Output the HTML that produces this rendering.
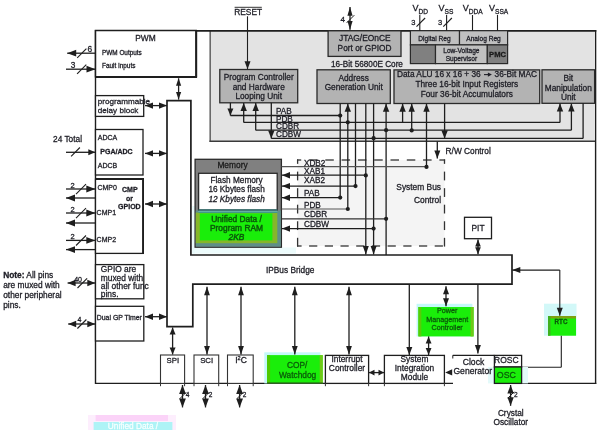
<!DOCTYPE html>
<html><head><meta charset="utf-8"><style>
html,body{margin:0;padding:0;background:#ffffff;}
svg{display:block;font-family:"Liberation Sans",sans-serif;will-change:transform;}
</style></head><body>
<svg width="600" height="430" viewBox="0 0 600 430">
<rect width="600" height="430" fill="#ffffff"/>
<rect x="88" y="415" width="88" height="15" fill="#fdeefd"/>
<rect x="95.6" y="415" width="72.4" height="6" fill="#fbd3f8"/>
<rect x="93.6" y="422" width="78.8" height="8" fill="#aef3f6"/>
<text x="133" y="429.49" font-size="8.3" text-anchor="middle" font-weight="normal" font-style="normal" fill="#f6ffff" stroke="#f6ffff" stroke-width="0.28" >Unified Data /</text>
<rect x="210.2" y="30.5" width="384.0" height="110.7" fill="#e3e3e3"/>
<line x1="210.2" y1="30.5" x2="210.2" y2="142" stroke="#6a6a6a" stroke-width="1.6" />
<line x1="209.5" y1="141.2" x2="595.5" y2="141.2" stroke="#3a3a3a" stroke-width="1.5" />
<line x1="95" y1="30.9" x2="596.3" y2="30.9" stroke="#1e1e1e" stroke-width="1.8" />
<line x1="95.5" y1="30" x2="95.5" y2="383.9" stroke="#1e1e1e" stroke-width="1.4" />
<line x1="95" y1="383.4" x2="453" y2="383.4" stroke="#1e1e1e" stroke-width="1.4" />
<line x1="521.6" y1="383.4" x2="596.3" y2="383.4" stroke="#1e1e1e" stroke-width="1.4" />
<line x1="595.6" y1="30" x2="595.6" y2="383.9" stroke="#1e1e1e" stroke-width="1.4" />
<rect x="95.5" y="30.5" width="100.7" height="46.3" fill="#ffffff" stroke="#1e1e1e" stroke-width="1.5" />
<line x1="95.5" y1="77" x2="197" y2="77" stroke="#1e1e1e" stroke-width="2.2" />
<line x1="196.2" y1="30.5" x2="196.2" y2="77.5" stroke="#1e1e1e" stroke-width="2.0" />
<text x="145.5" y="41.42" font-size="8.4" text-anchor="middle" font-weight="normal" font-style="normal" fill="#202028" stroke="#202028" stroke-width="0.28" >PWM</text>
<text x="102" y="55.10" font-size="6.4" text-anchor="start" font-weight="normal" font-style="normal" fill="#202028" stroke="#202028" stroke-width="0.28" >PWM Outputs</text>
<text x="102" y="68.30" font-size="6.4" text-anchor="start" font-weight="normal" font-style="normal" fill="#202028" stroke="#202028" stroke-width="0.28" >Fault Inputs</text>
<line x1="95.5" y1="53.2" x2="67.2" y2="53.2" stroke="#1e1e1e" stroke-width="1.3" />
<polygon points="67.20,53.20 76.20,49.80 76.20,56.60" fill="#1e1e1e"/>
<line x1="77.2" y1="57.9" x2="86.39999999999999" y2="48.699999999999996" stroke="#1e1e1e" stroke-width="1.1" />
<text x="89.7" y="52.29" font-size="8.3" text-anchor="middle" font-weight="normal" font-style="normal" fill="#202028" stroke="#202028" stroke-width="0.28" >6</text>
<line x1="66" y1="69.2" x2="95.5" y2="69.2" stroke="#1e1e1e" stroke-width="1.3" />
<polygon points="95.50,69.20 86.50,65.80 86.50,72.60" fill="#1e1e1e"/>
<line x1="77.10000000000001" y1="73.8" x2="86.3" y2="64.60000000000001" stroke="#1e1e1e" stroke-width="1.1" />
<text x="73.0" y="67.99" font-size="8.3" text-anchor="middle" font-weight="normal" font-style="normal" fill="#202028" stroke="#202028" stroke-width="0.28" >3</text>
<line x1="178.6" y1="78.3" x2="178.6" y2="99.6" stroke="#1e1e1e" stroke-width="1.3" />
<polygon points="178.60,99.60 176.00,92.10 181.20,92.10" fill="#1e1e1e"/>
<polygon points="178.60,78.30 176.00,85.80 181.20,85.80" fill="#1e1e1e"/>
<rect x="95.5" y="95.6" width="48.2" height="20.8" fill="#ffffff" stroke="#1e1e1e" stroke-width="1.3" />
<text x="97.8" y="104.12" font-size="8.1" text-anchor="start" font-weight="normal" font-style="normal" fill="#202028" stroke="#202028" stroke-width="0.28" >programmable</text>
<text x="97.8" y="113.12" font-size="8.1" text-anchor="start" font-weight="normal" font-style="normal" fill="#202028" stroke="#202028" stroke-width="0.28" >delay block</text>
<line x1="145" y1="105.6" x2="167" y2="105.6" stroke="#1e1e1e" stroke-width="1.3" />
<polygon points="167.00,105.60 159.00,102.40 159.00,108.80" fill="#1e1e1e"/>
<polygon points="145.00,105.60 153.00,102.40 153.00,108.80" fill="#1e1e1e"/>
<rect x="95.5" y="129.5" width="47.5" height="45.5" fill="#ffffff" stroke="#1e1e1e" stroke-width="1.3" />
<text x="97.8" y="139.82" font-size="7.0" text-anchor="start" font-weight="normal" font-style="normal" fill="#202028" stroke="#202028" stroke-width="0.28" >ADCA</text>
<text x="100.3" y="153.52" font-size="7.0" text-anchor="start" font-weight="bold" font-style="normal" fill="#202028" stroke="#202028" stroke-width="0.28" >PGA/ADC</text>
<text x="97.8" y="167.92" font-size="7.0" text-anchor="start" font-weight="normal" font-style="normal" fill="#202028" stroke="#202028" stroke-width="0.28" >ADCB</text>
<line x1="66" y1="152.3" x2="95.3" y2="152.3" stroke="#1e1e1e" stroke-width="1.3" />
<polygon points="95.30,152.30 88.30,149.30 88.30,155.30" fill="#1e1e1e"/>
<line x1="71.1" y1="156.3" x2="79.9" y2="147.5" stroke="#1e1e1e" stroke-width="1.1" />
<text x="82" y="142.49" font-size="8.3" text-anchor="end" font-weight="normal" font-style="normal" fill="#202028" stroke="#202028" stroke-width="0.28" >24 Total</text>
<line x1="145" y1="153.4" x2="167" y2="153.4" stroke="#1e1e1e" stroke-width="1.3" />
<polygon points="167.00,153.40 159.00,150.20 159.00,156.60" fill="#1e1e1e"/>
<polygon points="145.00,153.40 153.00,150.20 153.00,156.60" fill="#1e1e1e"/>
<rect x="95.5" y="179.2" width="47.5" height="74.2" fill="#ffffff" stroke="#1e1e1e" stroke-width="1.3" />
<line x1="95.5" y1="179.1" x2="144.0" y2="179.1" stroke="#1e1e1e" stroke-width="2.0" />
<line x1="143.1" y1="179" x2="143.1" y2="254" stroke="#1e1e1e" stroke-width="1.8" />
<text x="97.4" y="190.12" font-size="7.0" text-anchor="start" font-weight="normal" font-style="normal" fill="#202028" stroke="#202028" stroke-width="0.28" >CMP0</text>
<text x="96.6" y="214.72" font-size="7.0" text-anchor="start" font-weight="normal" font-style="normal" fill="#202028" stroke="#202028" stroke-width="0.28" >CMP1</text>
<text x="96.6" y="241.72" font-size="7.0" text-anchor="start" font-weight="normal" font-style="normal" fill="#202028" stroke="#202028" stroke-width="0.28" >CMP2</text>
<text x="129.8" y="192.32" font-size="7.0" text-anchor="middle" font-weight="bold" font-style="normal" fill="#202028" stroke="#202028" stroke-width="0.28" >CMP</text>
<text x="129.6" y="201.42" font-size="7.0" text-anchor="middle" font-weight="bold" font-style="normal" fill="#202028" stroke="#202028" stroke-width="0.28" >or</text>
<text x="129.4" y="209.12" font-size="7.0" text-anchor="middle" font-weight="bold" font-style="normal" fill="#202028" stroke="#202028" stroke-width="0.28" >GPIOD</text>
<line x1="66" y1="189" x2="95.3" y2="189" stroke="#1e1e1e" stroke-width="1.3" />
<polygon points="95.30,189.00 86.30,185.60 86.30,192.40" fill="#1e1e1e"/>
<line x1="76.0" y1="194.1" x2="86.0" y2="184.1" stroke="#1e1e1e" stroke-width="1.1" />
<text x="72.7" y="187.70" font-size="7.5" text-anchor="middle" font-weight="normal" font-style="normal" fill="#202028" stroke="#202028" stroke-width="0.28" >2</text>
<line x1="95.5" y1="198" x2="66" y2="198" stroke="#1e1e1e" stroke-width="1.3" />
<polygon points="66.00,198.00 75.00,194.60 75.00,201.40" fill="#1e1e1e"/>
<line x1="66" y1="213" x2="95.3" y2="213" stroke="#1e1e1e" stroke-width="1.3" />
<polygon points="95.30,213.00 86.30,209.60 86.30,216.40" fill="#1e1e1e"/>
<line x1="76.0" y1="218.1" x2="86.0" y2="208.1" stroke="#1e1e1e" stroke-width="1.1" />
<text x="72.7" y="211.70" font-size="7.5" text-anchor="middle" font-weight="normal" font-style="normal" fill="#202028" stroke="#202028" stroke-width="0.28" >2</text>
<line x1="95.5" y1="223" x2="66" y2="223" stroke="#1e1e1e" stroke-width="1.3" />
<polygon points="66.00,223.00 75.00,219.60 75.00,226.40" fill="#1e1e1e"/>
<line x1="66" y1="240.4" x2="95.3" y2="240.4" stroke="#1e1e1e" stroke-width="1.3" />
<polygon points="95.30,240.40 86.30,237.00 86.30,243.80" fill="#1e1e1e"/>
<line x1="76.0" y1="245.5" x2="86.0" y2="235.5" stroke="#1e1e1e" stroke-width="1.1" />
<text x="72.7" y="239.10" font-size="7.5" text-anchor="middle" font-weight="normal" font-style="normal" fill="#202028" stroke="#202028" stroke-width="0.28" >2</text>
<line x1="95.5" y1="249.6" x2="66" y2="249.6" stroke="#1e1e1e" stroke-width="1.3" />
<polygon points="66.00,249.60 75.00,246.20 75.00,253.00" fill="#1e1e1e"/>
<line x1="145" y1="204" x2="167" y2="204" stroke="#1e1e1e" stroke-width="1.3" />
<polygon points="167.00,204.00 159.00,200.80 159.00,207.20" fill="#1e1e1e"/>
<polygon points="145.00,204.00 153.00,200.80 153.00,207.20" fill="#1e1e1e"/>
<rect x="95.5" y="264.6" width="48.3" height="34.2" fill="#ffffff" stroke="#1e1e1e" stroke-width="1.3" />
<text x="100.8" y="272.22" font-size="8.4" text-anchor="start" font-weight="normal" font-style="normal" fill="#202028" stroke="#202028" stroke-width="0.28" >GPIO are</text>
<text x="100.8" y="280.52" font-size="8.4" text-anchor="start" font-weight="normal" font-style="normal" fill="#202028" stroke="#202028" stroke-width="0.28" >muxed with</text>
<text x="100.8" y="288.82" font-size="8.4" text-anchor="start" font-weight="normal" font-style="normal" fill="#202028" stroke="#202028" stroke-width="0.28" >all other func</text>
<text x="100.8" y="297.12" font-size="8.4" text-anchor="start" font-weight="normal" font-style="normal" fill="#202028" stroke="#202028" stroke-width="0.28" >pins.</text>
<line x1="67.6" y1="283.0" x2="95.3" y2="283.0" stroke="#1e1e1e" stroke-width="1.3" />
<polygon points="95.30,283.00 87.30,279.80 87.30,286.20" fill="#1e1e1e"/>
<polygon points="67.60,283.00 75.60,279.80 75.60,286.20" fill="#1e1e1e"/>
<line x1="77.5" y1="288.0" x2="87.1" y2="278.4" stroke="#1e1e1e" stroke-width="1.1" />
<text x="78.1" y="282.32" font-size="7.0" text-anchor="middle" font-weight="normal" font-style="normal" fill="#202028" stroke="#202028" stroke-width="0.28" >40</text>
<text x="3.2" y="278.31" font-size="8.35" text-anchor="start" font-weight="normal" font-style="normal" fill="#202028" stroke="#202028" stroke-width="0.28" ><tspan font-weight="bold">Note:</tspan> All pins</text>
<text x="3.2" y="288.01" font-size="8.35" text-anchor="start" font-weight="normal" font-style="normal" fill="#202028" stroke="#202028" stroke-width="0.28" >are muxed with</text>
<text x="3.2" y="297.81" font-size="8.35" text-anchor="start" font-weight="normal" font-style="normal" fill="#202028" stroke="#202028" stroke-width="0.28" >other peripheral</text>
<text x="3.2" y="307.71" font-size="8.35" text-anchor="start" font-weight="normal" font-style="normal" fill="#202028" stroke="#202028" stroke-width="0.28" >pins.</text>
<rect x="95.5" y="306.3" width="48.3" height="34.7" fill="#ffffff" stroke="#1e1e1e" stroke-width="1.3" />
<text x="96.8" y="320.48" font-size="6.9" text-anchor="start" font-weight="normal" font-style="normal" fill="#202028" stroke="#202028" stroke-width="0.28" >Dual GP Timer</text>
<line x1="68.2" y1="324.0" x2="95.3" y2="324.0" stroke="#1e1e1e" stroke-width="1.3" />
<polygon points="95.30,324.00 87.30,320.80 87.30,327.20" fill="#1e1e1e"/>
<polygon points="68.20,324.00 76.20,320.80 76.20,327.20" fill="#1e1e1e"/>
<line x1="77.4" y1="328.5" x2="86.4" y2="319.5" stroke="#1e1e1e" stroke-width="1.1" />
<text x="79.5" y="322.22" font-size="7.0" text-anchor="middle" font-weight="normal" font-style="normal" fill="#202028" stroke="#202028" stroke-width="0.28" >4</text>
<line x1="145" y1="316.7" x2="167" y2="316.7" stroke="#1e1e1e" stroke-width="1.3" />
<polygon points="167.00,316.70 159.00,313.50 159.00,319.90" fill="#1e1e1e"/>
<polygon points="145.00,316.70 153.00,313.50 153.00,319.90" fill="#1e1e1e"/>
<path d="M167,100.6 H190.9 V255.0 H512 V284.1 H192.8 V326.6 H167 Z" fill="#ffffff" stroke="#1e1e1e" stroke-width="1.7"/>
<text x="266" y="273.39" font-size="8.3" text-anchor="start" font-weight="normal" font-style="normal" fill="#202028" stroke="#202028" stroke-width="0.28" >IPBus Bridge</text>
<rect x="219.8" y="69.5" width="77.9" height="33.3" fill="#b3b3b3" stroke="#2a2a2a" stroke-width="1.3" />
<text x="258.7" y="79.59" font-size="8.3" text-anchor="middle" font-weight="normal" font-style="normal" fill="#202028" stroke="#202028" stroke-width="0.28" >Program Controller</text>
<text x="258.7" y="90.19" font-size="8.3" text-anchor="middle" font-weight="normal" font-style="normal" fill="#202028" stroke="#202028" stroke-width="0.28" >and Hardware</text>
<text x="258.7" y="99.29" font-size="8.3" text-anchor="middle" font-weight="normal" font-style="normal" fill="#202028" stroke="#202028" stroke-width="0.28" >Looping Unit</text>
<rect x="317" y="69.8" width="73.3" height="33.7" fill="#b3b3b3" stroke="#2a2a2a" stroke-width="1.3" />
<text x="353.7" y="80.99" font-size="8.3" text-anchor="middle" font-weight="normal" font-style="normal" fill="#202028" stroke="#202028" stroke-width="0.28" >Address</text>
<text x="353.7" y="90.39" font-size="8.3" text-anchor="middle" font-weight="normal" font-style="normal" fill="#202028" stroke="#202028" stroke-width="0.28" >Generation Unit</text>
<rect x="394" y="69.9" width="145.7" height="33.6" fill="#b3b3b3" stroke="#2a2a2a" stroke-width="1.3" />
<text x="397" y="77.29" font-size="8.3" text-anchor="start" font-weight="normal" font-style="normal" fill="#202028" stroke="#202028" stroke-width="0.28" >Data ALU 16 x 16 + 36</text>
<text x="494.6" y="77.29" font-size="8.3" text-anchor="start" font-weight="normal" font-style="normal" fill="#202028" stroke="#202028" stroke-width="0.28" >36-Bit MAC</text>
<line x1="484" y1="74.6" x2="489" y2="74.6" stroke="#202028" stroke-width="1.1" />
<polygon points="491.90,74.60 487.90,72.50 487.90,76.70" fill="#202028"/>
<text x="466.8" y="86.99" font-size="8.3" text-anchor="middle" font-weight="normal" font-style="normal" fill="#202028" stroke="#202028" stroke-width="0.28" >Three 16-bit Input Registers</text>
<text x="466.8" y="96.79" font-size="8.3" text-anchor="middle" font-weight="normal" font-style="normal" fill="#202028" stroke="#202028" stroke-width="0.28" >Four 36-bit Accumulators</text>
<rect x="542" y="69.8" width="52.6" height="33.5" fill="#b3b3b3" stroke="#2a2a2a" stroke-width="1.3" />
<text x="568.3" y="80.99" font-size="8.3" text-anchor="middle" font-weight="normal" font-style="normal" fill="#202028" stroke="#202028" stroke-width="0.28" >Bit</text>
<text x="568.3" y="90.59" font-size="8.3" text-anchor="middle" font-weight="normal" font-style="normal" fill="#202028" stroke="#202028" stroke-width="0.28" >Manipulation</text>
<text x="568.3" y="99.89" font-size="8.3" text-anchor="middle" font-weight="normal" font-style="normal" fill="#202028" stroke="#202028" stroke-width="0.28" >Unit</text>
<rect x="328.1" y="30.8" width="72.9" height="25.6" fill="#b3b3b3" stroke="#2a2a2a" stroke-width="1.3" />
<text x="364.8" y="41.02" font-size="8.4" text-anchor="middle" font-weight="normal" font-style="normal" fill="#202028" stroke="#202028" stroke-width="0.28" >JTAG/EOnCE</text>
<text x="364.6" y="50.59" font-size="8.3" text-anchor="middle" font-weight="normal" font-style="normal" fill="#202028" stroke="#202028" stroke-width="0.28" >Port or GPIOD</text>
<text x="331" y="67.25" font-size="8.2" text-anchor="start" font-weight="normal" font-style="normal" fill="#202028" stroke="#202028" stroke-width="0.28" >16-Bit 56800E Core</text>
<rect x="410.4" y="30.7" width="49.1" height="14.2" fill="#c0c0c0" stroke="#2a2a2a" stroke-width="1.2" />
<rect x="459.5" y="30.7" width="48.1" height="14.2" fill="#c0c0c0" stroke="#2a2a2a" stroke-width="1.2" />
<rect x="410.4" y="44.9" width="25.1" height="18.7" fill="#808080" stroke="#2a2a2a" stroke-width="1.2" />
<rect x="435.5" y="44.9" width="51.8" height="18.7" fill="#c0c0c0" stroke="#2a2a2a" stroke-width="1.2" />
<rect x="487.3" y="44.9" width="20.3" height="18.7" fill="#808080" stroke="#2a2a2a" stroke-width="1.2" />
<text x="434.5" y="41.28" font-size="6.6" text-anchor="middle" font-weight="normal" font-style="normal" fill="#202028" stroke="#202028" stroke-width="0.28" >Digital Reg</text>
<text x="483.5" y="41.28" font-size="6.6" text-anchor="middle" font-weight="normal" font-style="normal" fill="#202028" stroke="#202028" stroke-width="0.28" >Analog Reg</text>
<text x="461.4" y="52.68" font-size="6.6" text-anchor="middle" font-weight="normal" font-style="normal" fill="#202028" stroke="#202028" stroke-width="0.28" >Low-Voltage</text>
<text x="461.4" y="60.98" font-size="6.6" text-anchor="middle" font-weight="normal" font-style="normal" fill="#202028" stroke="#202028" stroke-width="0.28" >Supervisor</text>
<text x="497.5" y="56.94" font-size="7.6" text-anchor="middle" font-weight="bold" font-style="normal" fill="#1a1a1a" stroke="#1a1a1a" stroke-width="0.28" >PMC</text>
<text x="412.6" y="11.30" font-size="9.0" text-anchor="start" font-weight="normal" font-style="normal" fill="#202028" stroke="#202028" stroke-width="0.28" >V<tspan font-size="6.6" dy="2.4">DD</tspan></text>
<line x1="419.8" y1="15" x2="419.8" y2="30.7" stroke="#1e1e1e" stroke-width="1.1" />
<line x1="416.5" y1="26.6" x2="425.1" y2="18.0" stroke="#1e1e1e" stroke-width="1.1" />
<text x="413.3" y="25.20" font-size="7.5" text-anchor="middle" font-weight="normal" font-style="normal" fill="#202028" stroke="#202028" stroke-width="0.28" >3</text>
<text x="438.6" y="11.30" font-size="9.0" text-anchor="start" font-weight="normal" font-style="normal" fill="#202028" stroke="#202028" stroke-width="0.28" >V<tspan font-size="6.6" dy="2.4">SS</tspan></text>
<line x1="446.6" y1="15" x2="446.6" y2="30.7" stroke="#1e1e1e" stroke-width="1.1" />
<line x1="443.3" y1="26.6" x2="451.90000000000003" y2="18.0" stroke="#1e1e1e" stroke-width="1.1" />
<text x="440.1" y="25.20" font-size="7.5" text-anchor="middle" font-weight="normal" font-style="normal" fill="#202028" stroke="#202028" stroke-width="0.28" >3</text>
<text x="462.8" y="11.30" font-size="9.0" text-anchor="start" font-weight="normal" font-style="normal" fill="#202028" stroke="#202028" stroke-width="0.28" >V<tspan font-size="6.6" dy="2.4">DDA</tspan></text>
<line x1="472.5" y1="15" x2="472.5" y2="30.7" stroke="#1e1e1e" stroke-width="1.1" />
<text x="489.0" y="11.30" font-size="9.0" text-anchor="start" font-weight="normal" font-style="normal" fill="#202028" stroke="#202028" stroke-width="0.28" >V<tspan font-size="6.6" dy="2.4">SSA</tspan></text>
<line x1="497.5" y1="15" x2="497.5" y2="30.7" stroke="#1e1e1e" stroke-width="1.1" />
<text x="248.2" y="14.62" font-size="8.4" text-anchor="middle" font-weight="normal" font-style="normal" fill="#202028" stroke="#202028" stroke-width="0.28" >RESET</text>
<line x1="234.6" y1="7.3" x2="261.8" y2="7.3" stroke="#1e1e1e" stroke-width="0.9" />
<line x1="247.5" y1="16.3" x2="247.5" y2="69.3" stroke="#1e1e1e" stroke-width="1.1" />
<polygon points="247.50,69.30 244.50,61.30 250.50,61.30" fill="#1e1e1e"/>
<line x1="350" y1="7.0" x2="350" y2="29.7" stroke="#1e1e1e" stroke-width="1.3" />
<polygon points="350.00,29.70 347.40,20.90 352.60,20.90" fill="#1e1e1e"/>
<polygon points="350.00,7.00 347.40,15.80 352.60,15.80" fill="#1e1e1e"/>
<line x1="346.7" y1="22.8" x2="354.3" y2="15.2" stroke="#1e1e1e" stroke-width="1.0" />
<text x="342.8" y="22.38" font-size="8.0" text-anchor="middle" font-weight="normal" font-style="normal" fill="#202028" stroke="#202028" stroke-width="0.28" >4</text>
<rect x="297.6" y="160" width="146.9" height="86" fill="#f4f4f4"/>
<line x1="297.0" y1="160" x2="301.2" y2="160" stroke="#333" stroke-width="1.3" />
<line x1="309.0" y1="160" x2="317.5" y2="160" stroke="#333" stroke-width="1.3" />
<line x1="325.3" y1="160" x2="333.8" y2="160" stroke="#333" stroke-width="1.3" />
<line x1="341.6" y1="160" x2="350.1" y2="160" stroke="#333" stroke-width="1.3" />
<line x1="357.9" y1="160" x2="366.4" y2="160" stroke="#333" stroke-width="1.3" />
<line x1="374.2" y1="160" x2="382.7" y2="160" stroke="#333" stroke-width="1.3" />
<line x1="390.5" y1="160" x2="399.0" y2="160" stroke="#333" stroke-width="1.3" />
<line x1="406.8" y1="160" x2="415.3" y2="160" stroke="#333" stroke-width="1.3" />
<line x1="423.1" y1="160" x2="431.6" y2="160" stroke="#333" stroke-width="1.3" />
<line x1="439.4" y1="160" x2="445.1" y2="160" stroke="#333" stroke-width="1.3" />
<line x1="297.0" y1="246" x2="301.6" y2="246" stroke="#333" stroke-width="1.3" />
<line x1="309.1" y1="246" x2="317.3" y2="246" stroke="#333" stroke-width="1.3" />
<line x1="324.8" y1="246" x2="333.0" y2="246" stroke="#333" stroke-width="1.3" />
<line x1="340.5" y1="246" x2="348.7" y2="246" stroke="#333" stroke-width="1.3" />
<line x1="356.2" y1="246" x2="364.4" y2="246" stroke="#333" stroke-width="1.3" />
<line x1="371.9" y1="246" x2="380.1" y2="246" stroke="#333" stroke-width="1.3" />
<line x1="387.6" y1="246" x2="395.8" y2="246" stroke="#333" stroke-width="1.3" />
<line x1="403.3" y1="246" x2="411.5" y2="246" stroke="#333" stroke-width="1.3" />
<line x1="419.0" y1="246" x2="427.2" y2="246" stroke="#333" stroke-width="1.3" />
<line x1="434.7" y1="246" x2="442.9" y2="246" stroke="#333" stroke-width="1.3" />
<line x1="297.6" y1="159.4" x2="297.6" y2="163.85" stroke="#333" stroke-width="1.3" />
<line x1="297.6" y1="171.6" x2="297.6" y2="180.4" stroke="#333" stroke-width="1.3" />
<line x1="297.6" y1="188.15" x2="297.6" y2="196.95" stroke="#333" stroke-width="1.3" />
<line x1="297.6" y1="204.7" x2="297.6" y2="213.5" stroke="#333" stroke-width="1.3" />
<line x1="297.6" y1="221.25" x2="297.6" y2="230.05" stroke="#333" stroke-width="1.3" />
<line x1="297.6" y1="237.8" x2="297.6" y2="246.6" stroke="#333" stroke-width="1.3" />
<line x1="444.5" y1="159.4" x2="444.5" y2="163.85" stroke="#333" stroke-width="1.3" />
<line x1="444.5" y1="171.6" x2="444.5" y2="180.4" stroke="#333" stroke-width="1.3" />
<line x1="444.5" y1="188.15" x2="444.5" y2="196.95" stroke="#333" stroke-width="1.3" />
<line x1="444.5" y1="204.7" x2="444.5" y2="213.5" stroke="#333" stroke-width="1.3" />
<line x1="444.5" y1="221.25" x2="444.5" y2="230.05" stroke="#333" stroke-width="1.3" />
<line x1="444.5" y1="237.8" x2="444.5" y2="246.6" stroke="#333" stroke-width="1.3" />
<text x="441" y="190.12" font-size="8.4" text-anchor="end" font-weight="normal" font-style="normal" fill="#202028" stroke="#202028" stroke-width="0.28" >System Bus</text>
<text x="441" y="202.92" font-size="8.4" text-anchor="end" font-weight="normal" font-style="normal" fill="#202028" stroke="#202028" stroke-width="0.28" >Control</text>
<rect x="192.5" y="247.5" width="103.5" height="6.1" fill="#ecfbfb"/>
<rect x="192.3" y="206" width="2.7" height="47.6" fill="#e8fafa"/>
<rect x="195.1" y="159.3" width="86.3" height="87.9" fill="#808080" stroke="#2a2a2a" stroke-width="1.3" />
<rect x="195.8" y="210.5" width="85.0" height="36.1" fill="#5f8f88"/>
<rect x="195.8" y="212.6" width="81.5" height="30.6" fill="#86b62a"/>
<rect x="199.8" y="213.4" width="72.6" height="27.0" fill="#1aee0a"/>
<line x1="198.6" y1="210.8" x2="277.2" y2="210.8" stroke="#bff4f4" stroke-width="1.4" />
<line x1="198.6" y1="212.3" x2="277.2" y2="212.3" stroke="#3f9a88" stroke-width="1.6" />
<text x="232.5" y="168.12" font-size="8.4" text-anchor="middle" font-weight="normal" font-style="normal" fill="#1a1a1a" stroke="#1a1a1a" stroke-width="0.28" >Memory</text>
<rect x="198.6" y="173.3" width="78.6" height="36.7" fill="#ffffff" stroke="#2a2a2a" stroke-width="1.3" />
<line x1="198.6" y1="210.0" x2="277.2" y2="210.0" stroke="#3a7a78" stroke-width="1.3" />
<text x="236.6" y="183.17" font-size="8.25" text-anchor="middle" font-weight="normal" font-style="normal" fill="#202028" stroke="#202028" stroke-width="0.28" >Flash Memory</text>
<text x="236.6" y="192.47" font-size="8.25" text-anchor="middle" font-weight="normal" font-style="normal" fill="#202028" stroke="#202028" stroke-width="0.28" >16 Kbytes flash</text>
<text x="236.6" y="202.27" font-size="8.25" text-anchor="middle" font-weight="normal" font-style="italic" fill="#202028" stroke="#202028" stroke-width="0.28" >12 Kbytes flash</text>
<text x="236.5" y="222.02" font-size="8.4" text-anchor="middle" font-weight="normal" font-style="normal" fill="#0a5a0a" stroke="#0a5a0a" stroke-width="0.45" >Unified Data /</text>
<text x="236.5" y="231.42" font-size="8.4" text-anchor="middle" font-weight="normal" font-style="normal" fill="#0a5a0a" stroke="#0a5a0a" stroke-width="0.45" >Program RAM</text>
<text x="236.5" y="240.22" font-size="8.4" text-anchor="middle" font-weight="normal" font-style="italic" fill="#0a5a0a" stroke="#0a5a0a" stroke-width="0.45" >2KB</text>
<line x1="230.4" y1="115.5" x2="340.2" y2="115.5" stroke="#1e1e1e" stroke-width="1.3" />
<line x1="243.7" y1="122.4" x2="560" y2="122.4" stroke="#1e1e1e" stroke-width="1.3" />
<line x1="255.7" y1="130.2" x2="571.4" y2="130.2" stroke="#1e1e1e" stroke-width="1.3" />
<line x1="271.3" y1="138.4" x2="583.1" y2="138.4" stroke="#1e1e1e" stroke-width="1.3" />
<line x1="230.4" y1="102.8" x2="230.4" y2="115.5" stroke="#1e1e1e" stroke-width="1.3" />
<polygon points="230.40,115.50 227.40,108.50 233.40,108.50" fill="#1e1e1e"/>
<line x1="243.7" y1="122.4" x2="243.7" y2="103" stroke="#1e1e1e" stroke-width="1.3" />
<polygon points="243.70,103.00 240.50,111.00 246.90,111.00" fill="#1e1e1e"/>
<line x1="255.7" y1="130.2" x2="255.7" y2="103" stroke="#1e1e1e" stroke-width="1.3" />
<polygon points="255.70,103.00 252.50,111.00 258.90,111.00" fill="#1e1e1e"/>
<line x1="271.3" y1="102.8" x2="271.3" y2="138.4" stroke="#1e1e1e" stroke-width="1.3" />
<polygon points="271.30,138.40 268.10,130.40 274.50,130.40" fill="#1e1e1e"/>
<text x="276" y="113.95" font-size="8.2" text-anchor="start" font-weight="normal" font-style="normal" fill="#202028" stroke="#202028" stroke-width="0.28" >PAB</text>
<text x="276" y="121.55" font-size="8.2" text-anchor="start" font-weight="normal" font-style="normal" fill="#202028" stroke="#202028" stroke-width="0.28" >PDB</text>
<text x="276" y="129.15" font-size="8.2" text-anchor="start" font-weight="normal" font-style="normal" fill="#202028" stroke="#202028" stroke-width="0.28" >CDBR</text>
<text x="276" y="136.95" font-size="8.2" text-anchor="start" font-weight="normal" font-style="normal" fill="#202028" stroke="#202028" stroke-width="0.28" >CDBW</text>
<line x1="340.2" y1="103.5" x2="340.2" y2="197.7" stroke="#1e1e1e" stroke-width="1.3" />
<line x1="347.8" y1="209" x2="347.8" y2="103.7" stroke="#1e1e1e" stroke-width="1.3" />
<polygon points="347.80,103.70 344.60,111.70 351.00,111.70" fill="#1e1e1e"/>
<line x1="355.5" y1="103.5" x2="355.5" y2="186.1" stroke="#1e1e1e" stroke-width="1.3" />
<line x1="365.8" y1="103.5" x2="365.8" y2="254.4" stroke="#1e1e1e" stroke-width="1.3" />
<polygon points="365.80,254.40 362.80,245.90 368.80,245.90" fill="#1e1e1e"/>
<line x1="373.6" y1="103.5" x2="373.6" y2="254.4" stroke="#1e1e1e" stroke-width="1.3" />
<polygon points="373.60,254.40 370.60,245.90 376.60,245.90" fill="#1e1e1e"/>
<line x1="386.1" y1="255.0" x2="386.1" y2="103.7" stroke="#1e1e1e" stroke-width="1.3" />
<polygon points="386.10,103.70 382.90,111.70 389.30,111.70" fill="#1e1e1e"/>
<circle cx="340.2" cy="115.6" r="2.1" fill="#1e1e1e"/>
<circle cx="347.8" cy="122.3" r="2.1" fill="#1e1e1e"/>
<circle cx="373.6" cy="138.2" r="2.1" fill="#1e1e1e"/>
<circle cx="386.1" cy="130.2" r="2.1" fill="#1e1e1e"/>
<line x1="402.6" y1="122.4" x2="402.6" y2="103.7" stroke="#1e1e1e" stroke-width="1.3" />
<polygon points="402.60,103.70 399.40,111.70 405.80,111.70" fill="#1e1e1e"/>
<line x1="411.7" y1="130.4" x2="411.7" y2="103.7" stroke="#1e1e1e" stroke-width="1.3" />
<polygon points="411.70,103.70 408.50,111.70 414.90,111.70" fill="#1e1e1e"/>
<circle cx="411.7" cy="130.4" r="2.1" fill="#1e1e1e"/>
<line x1="426.5" y1="167" x2="426.5" y2="103.7" stroke="#1e1e1e" stroke-width="1.3" />
<polygon points="426.50,103.70 423.30,111.70 429.70,111.70" fill="#1e1e1e"/>
<line x1="444.6" y1="103.5" x2="444.6" y2="138.6" stroke="#1e1e1e" stroke-width="1.3" />
<polygon points="444.60,138.60 441.40,130.60 447.80,130.60" fill="#1e1e1e"/>
<line x1="560" y1="122.4" x2="560" y2="103.5" stroke="#1e1e1e" stroke-width="1.3" />
<polygon points="560.00,103.50 556.80,111.50 563.20,111.50" fill="#1e1e1e"/>
<line x1="571.4" y1="130.2" x2="571.4" y2="103.5" stroke="#1e1e1e" stroke-width="1.3" />
<polygon points="571.40,103.50 568.20,111.50 574.60,111.50" fill="#1e1e1e"/>
<line x1="583.1" y1="103.3" x2="583.1" y2="138.4" stroke="#1e1e1e" stroke-width="1.3" />
<line x1="437.3" y1="141.5" x2="437.3" y2="158.5" stroke="#1e1e1e" stroke-width="1.3" />
<polygon points="437.30,158.50 434.30,150.50 440.30,150.50" fill="#1e1e1e"/>
<text x="445.6" y="154.19" font-size="8.3" text-anchor="start" font-weight="normal" font-style="normal" fill="#202028" stroke="#202028" stroke-width="0.28" >R/W Control</text>
<line x1="281.5" y1="166.7" x2="426.5" y2="166.7" stroke="#555" stroke-width="1.2" />
<circle cx="426.5" cy="166.9" r="2.1" fill="#1e1e1e"/>
<line x1="365.8" y1="175.2" x2="282" y2="175.2" stroke="#1e1e1e" stroke-width="1.3" />
<polygon points="282.00,175.20 290.00,172.00 290.00,178.40" fill="#1e1e1e"/>
<circle cx="365.8" cy="175.4" r="2.1" fill="#1e1e1e"/>
<line x1="355.5" y1="186.1" x2="282" y2="186.1" stroke="#1e1e1e" stroke-width="1.3" />
<polygon points="282.00,186.10 290.00,182.90 290.00,189.30" fill="#1e1e1e"/>
<circle cx="355.5" cy="186.1" r="2.1" fill="#1e1e1e"/>
<line x1="340.2" y1="197.7" x2="282" y2="197.7" stroke="#1e1e1e" stroke-width="1.3" />
<polygon points="282.00,197.70 290.00,194.50 290.00,200.90" fill="#1e1e1e"/>
<circle cx="340.2" cy="197.6" r="2.1" fill="#1e1e1e"/>
<line x1="281.5" y1="209.0" x2="347.8" y2="209.0" stroke="#555" stroke-width="1.2" />
<circle cx="347.8" cy="209.0" r="2.1" fill="#1e1e1e"/>
<line x1="281.5" y1="218.8" x2="386.1" y2="218.8" stroke="#333" stroke-width="1.3" />
<circle cx="386.1" cy="218.8" r="2.1" fill="#1e1e1e"/>
<line x1="373.6" y1="228.6" x2="282" y2="228.6" stroke="#1e1e1e" stroke-width="1.3" />
<polygon points="282.00,228.60 290.00,225.40 290.00,231.80" fill="#1e1e1e"/>
<circle cx="373.6" cy="228.6" r="2.1" fill="#1e1e1e"/>
<text x="304" y="165.75" font-size="8.2" text-anchor="start" font-weight="normal" font-style="normal" fill="#202028" stroke="#202028" stroke-width="0.28" >XDB2</text>
<text x="304" y="174.35" font-size="8.2" text-anchor="start" font-weight="normal" font-style="normal" fill="#202028" stroke="#202028" stroke-width="0.28" >XAB1</text>
<text x="304" y="182.75" font-size="8.2" text-anchor="start" font-weight="normal" font-style="normal" fill="#202028" stroke="#202028" stroke-width="0.28" >XAB2</text>
<text x="304" y="195.95" font-size="8.2" text-anchor="start" font-weight="normal" font-style="normal" fill="#202028" stroke="#202028" stroke-width="0.28" >PAB</text>
<text x="304" y="207.95" font-size="8.2" text-anchor="start" font-weight="normal" font-style="normal" fill="#202028" stroke="#202028" stroke-width="0.28" >PDB</text>
<text x="304" y="216.55" font-size="8.2" text-anchor="start" font-weight="normal" font-style="normal" fill="#202028" stroke="#202028" stroke-width="0.28" >CDBR</text>
<text x="304" y="227.35" font-size="8.2" text-anchor="start" font-weight="normal" font-style="normal" fill="#202028" stroke="#202028" stroke-width="0.28" >CDBW</text>
<rect x="464.5" y="217.3" width="27.0" height="21.4" fill="#ffffff" stroke="#1e1e1e" stroke-width="1.3" />
<text x="478" y="231.02" font-size="8.4" text-anchor="middle" font-weight="normal" font-style="normal" fill="#202028" stroke="#202028" stroke-width="0.28" >PIT</text>
<line x1="478" y1="239.5" x2="478" y2="254.3" stroke="#1e1e1e" stroke-width="1.3" />
<polygon points="478.00,254.30 475.20,247.30 480.80,247.30" fill="#1e1e1e"/>
<polygon points="478.00,239.50 475.20,246.50 480.80,246.50" fill="#1e1e1e"/>
<rect x="544" y="303.7" width="32.5" height="32.0" fill="#d2f8f8"/>
<rect x="548" y="316" width="28" height="19.7" fill="#1aee0a" stroke="none" stroke-width="0" />
<rect x="548" y="316" width="28" height="2.5" fill="#7fa010"/>
<rect x="548" y="316" width="2.5" height="19.7" fill="#40b020"/>
<text x="561.0" y="324.07" font-size="6.3" text-anchor="middle" font-weight="bold" font-style="normal" fill="#0a5a0a" stroke="#0a5a0a" stroke-width="0.28" >RTC</text>
<line x1="559.8" y1="270.1" x2="559.8" y2="315.8" stroke="#1e1e1e" stroke-width="1.1" />
<polygon points="559.80,315.80 556.80,307.80 562.80,307.80" fill="#1e1e1e"/>
<line x1="559.8" y1="270.1" x2="512.3" y2="270.1" stroke="#1e1e1e" stroke-width="1.1" />
<polygon points="512.30,270.10 520.30,267.10 520.30,273.10" fill="#1e1e1e"/>
<line x1="561.3" y1="335.7" x2="561.3" y2="367.2" stroke="#1e1e1e" stroke-width="1.1" />
<line x1="561.3" y1="367.2" x2="521.6" y2="367.2" stroke="#1e1e1e" stroke-width="1.1" />
<rect x="416.6" y="303.8" width="55.8" height="32.6" fill="#c4f8f8"/>
<rect x="418.4" y="307" width="55.2" height="29.4" fill="#1aee0a"/>
<rect x="418.4" y="307" width="3.0" height="29.4" fill="#58cc08"/>
<rect x="470.6" y="307" width="3.0" height="29.4" fill="#70c818"/>
<text x="447.2" y="313.09" font-size="7.2" text-anchor="middle" font-weight="normal" font-style="normal" fill="#0a5a0a" stroke="#0a5a0a" stroke-width="0.28" >Power</text>
<text x="447.2" y="321.59" font-size="7.2" text-anchor="middle" font-weight="normal" font-style="normal" fill="#0a5a0a" stroke="#0a5a0a" stroke-width="0.28" >Management</text>
<text x="447.2" y="329.79" font-size="7.2" text-anchor="middle" font-weight="normal" font-style="normal" fill="#0a5a0a" stroke="#0a5a0a" stroke-width="0.28" >Controller</text>
<line x1="446" y1="286.3" x2="446" y2="306.3" stroke="#1e1e1e" stroke-width="1.3" />
<polygon points="446.00,306.30 443.00,298.30 449.00,298.30" fill="#1e1e1e"/>
<polygon points="446.00,286.30 443.00,294.30 449.00,294.30" fill="#1e1e1e"/>
<line x1="428.6" y1="336.4" x2="428.6" y2="355.0" stroke="#1e1e1e" stroke-width="1.3" />
<polygon points="428.60,355.00 425.70,348.00 431.50,348.00" fill="#1e1e1e"/>
<polygon points="428.60,336.40 425.70,343.40 431.50,343.40" fill="#1e1e1e"/>
<rect x="160.5" y="355" width="24.1" height="28.4" fill="#ffffff" stroke="#333" stroke-width="1.1" />
<text x="172.85000000000002" y="363.11" font-size="7.8" text-anchor="middle" font-weight="normal" font-style="normal" fill="#202028" stroke="#202028" stroke-width="0.28" >SPI</text>
<rect x="194" y="355" width="24.7" height="28.4" fill="#ffffff" stroke="#333" stroke-width="1.1" />
<text x="206.65" y="363.11" font-size="7.8" text-anchor="middle" font-weight="normal" font-style="normal" fill="#202028" stroke="#202028" stroke-width="0.28" >SCI</text>
<rect x="227.5" y="355" width="25.7" height="28.4" fill="#ffffff" stroke="#333" stroke-width="1.1" />
<text x="241.0" y="363.36" font-size="8.5" text-anchor="middle" font-weight="normal" font-style="normal" fill="#202028" stroke="#202028" stroke-width="0.28" >I<tspan font-size="5.6" dy="-3">2</tspan><tspan dy="3">C</tspan></text>
<line x1="172.6" y1="327.5" x2="172.6" y2="354.5" stroke="#1e1e1e" stroke-width="1.3" />
<polygon points="172.60,354.50 169.60,347.50 175.60,347.50" fill="#1e1e1e"/>
<polygon points="172.60,327.50 169.60,334.50 175.60,334.50" fill="#1e1e1e"/>
<line x1="207" y1="286.8" x2="207" y2="354.5" stroke="#1e1e1e" stroke-width="1.3" />
<polygon points="207.00,354.50 204.10,346.00 209.90,346.00" fill="#1e1e1e"/>
<polygon points="207.00,286.80 204.10,295.30 209.90,295.30" fill="#1e1e1e"/>
<line x1="241" y1="286.8" x2="241" y2="354.5" stroke="#1e1e1e" stroke-width="1.3" />
<polygon points="241.00,354.50 238.10,346.00 243.90,346.00" fill="#1e1e1e"/>
<polygon points="241.00,286.80 238.10,295.30 243.90,295.30" fill="#1e1e1e"/>
<line x1="182.5" y1="385" x2="182.5" y2="407.4" stroke="#1e1e1e" stroke-width="1.3" />
<polygon points="182.50,407.40 179.10,398.40 185.90,398.40" fill="#1e1e1e"/>
<polygon points="182.50,385.00 179.10,394.00 185.90,394.00" fill="#1e1e1e"/>
<line x1="179.8" y1="398.7" x2="186.2" y2="392.3" stroke="#1e1e1e" stroke-width="1.0" />
<text x="187.5" y="397.34" font-size="6.5" text-anchor="middle" font-weight="normal" font-style="normal" fill="#202028" stroke="#202028" stroke-width="0.28" >4</text>
<line x1="205.5" y1="385" x2="205.5" y2="407.4" stroke="#1e1e1e" stroke-width="1.3" />
<polygon points="205.50,407.40 202.10,398.40 208.90,398.40" fill="#1e1e1e"/>
<polygon points="205.50,385.00 202.10,394.00 208.90,394.00" fill="#1e1e1e"/>
<line x1="202.8" y1="398.7" x2="209.2" y2="392.3" stroke="#1e1e1e" stroke-width="1.0" />
<text x="210.5" y="397.34" font-size="6.5" text-anchor="middle" font-weight="normal" font-style="normal" fill="#202028" stroke="#202028" stroke-width="0.28" >2</text>
<line x1="239.6" y1="385" x2="239.6" y2="407.4" stroke="#1e1e1e" stroke-width="1.3" />
<polygon points="239.60,407.40 236.20,398.40 243.00,398.40" fill="#1e1e1e"/>
<polygon points="239.60,385.00 236.20,394.00 243.00,394.00" fill="#1e1e1e"/>
<line x1="236.9" y1="398.7" x2="243.29999999999998" y2="392.3" stroke="#1e1e1e" stroke-width="1.0" />
<text x="244.6" y="397.34" font-size="6.5" text-anchor="middle" font-weight="normal" font-style="normal" fill="#202028" stroke="#202028" stroke-width="0.28" >2</text>
<rect x="264.3" y="352.3" width="56.1" height="31.1" fill="#c4f8f8"/>
<rect x="267.1" y="355.1" width="55.6" height="28.3" fill="#1aee0a"/>
<rect x="267.1" y="355.1" width="3.0" height="28.3" fill="#50c800"/>
<rect x="319.7" y="355.1" width="3.0" height="28.3" fill="#70c818"/>
<line x1="267.1" y1="383.2" x2="322.7" y2="383.2" stroke="#2a4a1a" stroke-width="1.3" />
<text x="297.2" y="368.11" font-size="8.35" text-anchor="middle" font-weight="normal" font-style="normal" fill="#0a5a0a" stroke="#0a5a0a" stroke-width="0.28" >COP/</text>
<text x="297.6" y="377.51" font-size="8.35" text-anchor="middle" font-weight="normal" font-style="normal" fill="#0a5a0a" stroke="#0a5a0a" stroke-width="0.28" >Watchdog</text>
<line x1="294.8" y1="286.8" x2="294.8" y2="354.5" stroke="#1e1e1e" stroke-width="1.3" />
<polygon points="294.80,354.50 291.90,346.00 297.70,346.00" fill="#1e1e1e"/>
<polygon points="294.80,286.80 291.90,295.30 297.70,295.30" fill="#1e1e1e"/>
<rect x="325.4" y="355.4" width="43.2" height="28.0" fill="#ffffff" stroke="#1e1e1e" stroke-width="1.3" />
<text x="347" y="362.02" font-size="8.4" text-anchor="middle" font-weight="normal" font-style="normal" fill="#202028" stroke="#202028" stroke-width="0.28" >Interrupt</text>
<text x="347" y="370.62" font-size="8.4" text-anchor="middle" font-weight="normal" font-style="normal" fill="#202028" stroke="#202028" stroke-width="0.28" >Controller</text>
<line x1="349" y1="286.8" x2="349" y2="354.5" stroke="#1e1e1e" stroke-width="1.3" />
<polygon points="349.00,354.50 346.10,346.00 351.90,346.00" fill="#1e1e1e"/>
<polygon points="349.00,286.80 346.10,295.30 351.90,295.30" fill="#1e1e1e"/>
<rect x="384.4" y="355.4" width="60.0" height="28.0" fill="#ffffff" stroke="#1e1e1e" stroke-width="1.3" />
<text x="414.5" y="361.62" font-size="8.4" text-anchor="middle" font-weight="normal" font-style="normal" fill="#202028" stroke="#202028" stroke-width="0.28" >System</text>
<text x="414.5" y="371.02" font-size="8.4" text-anchor="middle" font-weight="normal" font-style="normal" fill="#202028" stroke="#202028" stroke-width="0.28" >Integration</text>
<text x="414.5" y="380.22" font-size="8.4" text-anchor="middle" font-weight="normal" font-style="normal" fill="#202028" stroke="#202028" stroke-width="0.28" >Module</text>
<line x1="409.3" y1="284" x2="409.3" y2="355" stroke="#1e1e1e" stroke-width="1.3" />
<polygon points="409.30,355.00 406.30,347.00 412.30,347.00" fill="#1e1e1e"/>
<line x1="369" y1="372.6" x2="384" y2="372.6" stroke="#1e1e1e" stroke-width="1.3" />
<polygon points="384.00,372.60 378.50,369.80 378.50,375.40" fill="#1e1e1e"/>
<polygon points="369.00,372.60 374.50,369.80 374.50,375.40" fill="#1e1e1e"/>
<rect x="488" y="367" width="40" height="16.4" fill="#e4fafa"/>
<line x1="452.8" y1="355.3" x2="494.4" y2="355.3" stroke="#1e1e1e" stroke-width="1.3" />
<line x1="452.8" y1="355.3" x2="452.8" y2="358.5" stroke="#1e1e1e" stroke-width="1.0" />
<text x="473.5" y="364.90" font-size="8.6" text-anchor="middle" font-weight="normal" font-style="normal" fill="#202028" stroke="#202028" stroke-width="0.28" >Clock</text>
<text x="472.8" y="374.30" font-size="8.6" text-anchor="middle" font-weight="normal" font-style="normal" fill="#202028" stroke="#202028" stroke-width="0.28" >Generator</text>
<polygon points="445.20,372.40 452.20,369.20 452.20,375.60" fill="#1e1e1e"/>
<line x1="477.9" y1="284" x2="477.9" y2="353.6" stroke="#1e1e1e" stroke-width="1.3" />
<polygon points="477.90,353.60 474.90,345.10 480.90,345.10" fill="#1e1e1e"/>
<line x1="160.5" y1="383" x2="160.5" y2="386.2" stroke="#333" stroke-width="1.0" />
<line x1="184.6" y1="383" x2="184.6" y2="386.2" stroke="#333" stroke-width="1.0" />
<line x1="194" y1="383" x2="194" y2="386.2" stroke="#333" stroke-width="1.0" />
<line x1="218.7" y1="383" x2="218.7" y2="386.2" stroke="#333" stroke-width="1.0" />
<line x1="227.5" y1="383" x2="227.5" y2="386.2" stroke="#333" stroke-width="1.0" />
<line x1="253.2" y1="383" x2="253.2" y2="386.2" stroke="#333" stroke-width="1.0" />
<line x1="325.4" y1="383" x2="325.4" y2="386.2" stroke="#333" stroke-width="1.0" />
<line x1="368.6" y1="383" x2="368.6" y2="386.2" stroke="#333" stroke-width="1.0" />
<line x1="384.4" y1="383" x2="384.4" y2="386.2" stroke="#333" stroke-width="1.0" />
<line x1="444.4" y1="383" x2="444.4" y2="386.2" stroke="#333" stroke-width="1.0" />
<rect x="494.4" y="355.4" width="27.2" height="11.6" fill="#ffffff" stroke="#1e1e1e" stroke-width="1.3" />
<rect x="494.4" y="367" width="27.2" height="16.4" fill="#1aee0a" stroke="#1e1e1e" stroke-width="1.3" />
<text x="506.4" y="362.86" font-size="8.5" text-anchor="middle" font-weight="normal" font-style="normal" fill="#202028" stroke="#202028" stroke-width="0.28" >ROSC</text>
<text x="506.4" y="377.57" font-size="8.8" text-anchor="middle" font-weight="normal" font-style="normal" fill="#0a5a0a" stroke="#0a5a0a" stroke-width="0.28" >OSC</text>
<line x1="510.6" y1="385" x2="510.6" y2="405.8" stroke="#1e1e1e" stroke-width="1.3" />
<polygon points="510.60,405.80 507.40,397.30 513.80,397.30" fill="#1e1e1e"/>
<polygon points="510.60,385.00 507.40,393.50 513.80,393.50" fill="#1e1e1e"/>
<line x1="507.8" y1="398.2" x2="514.2" y2="391.8" stroke="#1e1e1e" stroke-width="1.0" />
<text x="515.8" y="396.54" font-size="6.5" text-anchor="middle" font-weight="normal" font-style="normal" fill="#202028" stroke="#202028" stroke-width="0.28" >2</text>
<text x="510.8" y="415.99" font-size="8.3" text-anchor="middle" font-weight="normal" font-style="normal" fill="#202028" stroke="#202028" stroke-width="0.28" >Crystal</text>
<text x="510.8" y="425.09" font-size="8.3" text-anchor="middle" font-weight="normal" font-style="normal" fill="#202028" stroke="#202028" stroke-width="0.28" >Oscillator</text>
</svg>
</body></html>
